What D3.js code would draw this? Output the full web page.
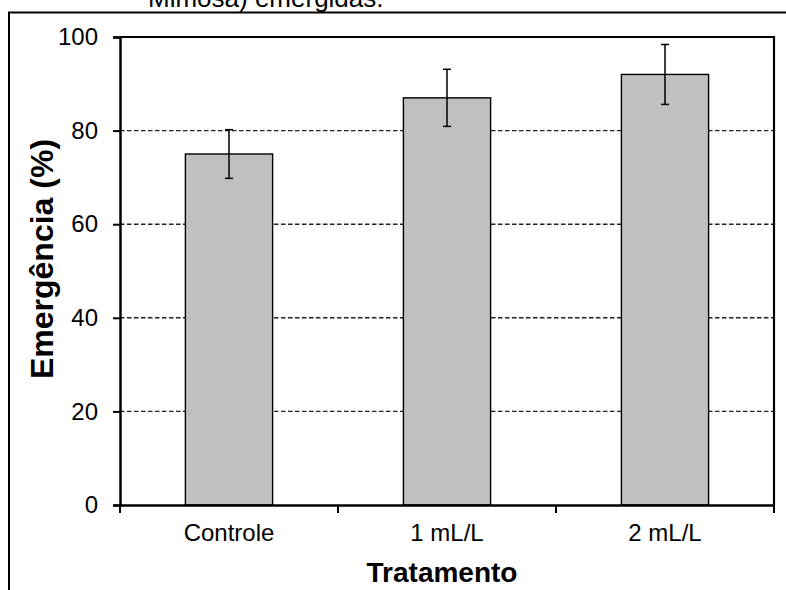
<!DOCTYPE html>
<html>
<head>
<meta charset="utf-8">
<script src="https://cdn.jsdelivr.net/npm/d3@7"></script>
<style>
  body { margin: 0; background: #fff; }
  svg { display: block; font-family: Arial, "Liberation Sans", sans-serif; }
</style>
</head>
<body>
<svg width="786" height="590"></svg>
<script>
// data
var categories = ["Controle", "1 mL/L", "2 mL/L"];
var values = [75, 87, 92];
var errors = [5.2, 6.1, 6.4];
var yTicks = [0, 20, 40, 60, 80, 100];

var svg = d3.select("svg");

// plot box
var plotLeft = 120, plotRight = 774, plotTop = 37, plotBottom = 505;

var x = d3.scaleBand()
    .domain(categories)
    .range([plotLeft, plotRight])
    .paddingInner(0.6)
    .paddingOuter(0.3);

var y = d3.scaleLinear()
    .domain([0, 100])
    .range([plotBottom, plotTop]);

// outer frame (cut by the window edge)
svg.append("rect")
    .attr("x", 9).attr("y", 12.5)
    .attr("width", 800).attr("height", 600)
    .attr("fill", "none")
    .attr("stroke", "#000")
    .attr("stroke-width", 2);

// caption text, cut off at the top
svg.append("text")
    .attr("x", 148).attr("y", 7)
    .attr("font-size", 26)
    .attr("fill", "#000")
    .text("Mimosa) emergidas.");

// dashed gridlines
svg.append("g")
    .selectAll("line")
    .data(yTicks.filter(function(d) { return d > 0 && d < 100; }))
    .enter().append("line")
    .attr("x1", plotLeft).attr("x2", plotRight)
    .attr("y1", function(d) { return y(d); })
    .attr("y2", function(d) { return y(d); })
    .attr("stroke", "#222")
    .attr("stroke-width", 1.4)
    .attr("stroke-dasharray", "4.5,2.5");

// bars
svg.append("g")
    .selectAll("rect")
    .data(values)
    .enter().append("rect")
    .attr("x", function(d, i) { return x(categories[i]); })
    .attr("y", function(d) { return y(d); })
    .attr("width", x.bandwidth())
    .attr("height", function(d) { return y(0) - y(d); })
    .attr("fill", "#c0c0c0")
    .attr("stroke", "#000")
    .attr("stroke-width", 1.4);

// error bars
var eb = svg.append("g").attr("stroke", "#000").attr("stroke-width", 1.5);
values.forEach(function(v, i) {
    var cx = x(categories[i]) + x.bandwidth() / 2;
    eb.append("line")
        .attr("x1", cx).attr("x2", cx)
        .attr("y1", y(v + errors[i])).attr("y2", y(v - errors[i]));
    [v + errors[i], v - errors[i]].forEach(function(e) {
        eb.append("line")
            .attr("x1", cx - 4).attr("x2", cx + 4)
            .attr("y1", y(e)).attr("y2", y(e));
    });
});

// top and right border of the plot
svg.append("path")
    .attr("d", "M" + plotLeft + "," + plotTop + "H" + plotRight + "V" + plotBottom)
    .attr("fill", "none")
    .attr("stroke", "#000")
    .attr("stroke-width", 2.2);

// y axis
var yAxis = svg.append("g")
    .attr("transform", "translate(" + plotLeft + ",0)")
    .call(d3.axisLeft(y).tickValues(yTicks).tickSize(7).tickPadding(15));
yAxis.attr("font-size", 24).attr("font-family", "Arial, 'Liberation Sans', sans-serif");
yAxis.select(".domain").attr("stroke-width", 2.5);
yAxis.selectAll(".tick line").attr("stroke-width", 2);
yAxis.selectAll("text").attr("fill", "#000");

// x axis, ticks at the category boundaries
var xAxis = svg.append("g")
    .attr("transform", "translate(0," + plotBottom + ")")
    .call(d3.axisBottom(x).tickSize(0).tickPadding(19));
xAxis.attr("font-size", 24).attr("font-family", "Arial, 'Liberation Sans', sans-serif");
xAxis.select(".domain").attr("stroke-width", 2.5);
xAxis.selectAll("text").attr("fill", "#000");

var step = x.step();
var bounds = [plotLeft].concat(categories.map(function(c) {
    return x(c) + x.bandwidth() / 2 + step / 2;
}));
bounds[bounds.length - 1] = plotRight;
xAxis.selectAll(".bound")
    .data(bounds)
    .enter().append("line")
    .attr("class", "bound")
    .attr("x1", function(d) { return d; })
    .attr("x2", function(d) { return d; })
    .attr("y1", 0).attr("y2", 8)
    .attr("stroke", "#000")
    .attr("stroke-width", 2);

// axis titles
svg.append("text")
    .attr("x", 442).attr("y", 582)
    .attr("text-anchor", "middle")
    .attr("font-size", 28)
    .attr("font-weight", "bold")
    .text("Tratamento");

svg.append("text")
    .attr("transform", "translate(53,259) rotate(-90)")
    .attr("text-anchor", "middle")
    .attr("font-size", 32)
    .attr("font-weight", "bold")
    .text("Emergência (%)");
</script>
</body>
</html>
